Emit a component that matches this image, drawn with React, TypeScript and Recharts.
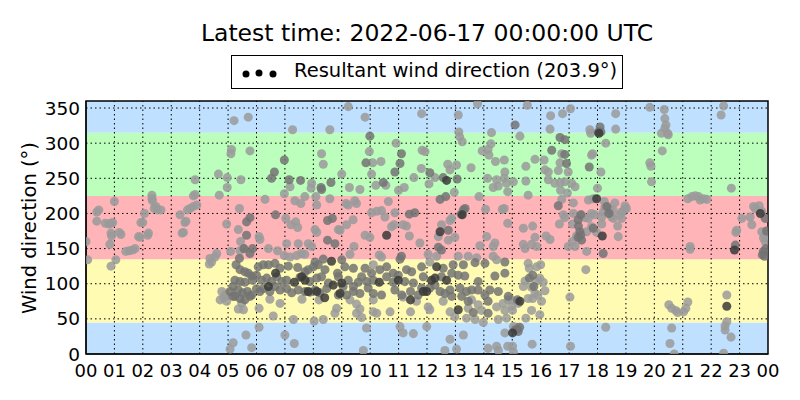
import {
  ScatterChart,
  Scatter,
  XAxis,
  YAxis,
  ZAxis,
  ReferenceArea,
  ReferenceLine,
} from "recharts";

// wind direction samples as [hour of day, degrees], split by shade
const lightPts: [number, number][] = [
  [1.0, 217], [0.45, 205], [0.38, 202], [0.38, 189], [0.68, 186], [0.8, 185], [0.88, 186], [0.94, 187],
  [0.0, 160], [0.06, 134], [0.88, 172], [0.9, 168], [0.84, 156], [1.17, 173], [1.23, 170], [1.05, 134],
  [0.88, 125], [1.4, 146], [1.52, 147], [1.64, 148], [1.73, 150], [1.85, 167], [1.9, 166], [1.93, 187],
  [2.0, 187], [2.06, 200], [2.2, 172], [2.17, 169], [2.32, 226], [2.32, 221], [2.34, 218], [2.46, 210],
  [2.4, 207], [2.52, 205], [2.64, 205],
  [3.84, 248], [4.66, 256], [4.97, 251], [5.45, 248], [4.97, 237], [4.69, 226], [3.84, 227], [3.78, 225],
  [3.9, 212], [3.78, 210], [3.66, 207], [3.57, 205], [3.31, 198], [3.52, 189], [3.48, 187], [3.43, 173],
  [3.38, 172], [5.21, 332], [5.71, 337], [5.12, 291], [5.1, 285], [5.77, 289], [5.4, 207], [4.95, 185],
  [5.36, 177], [5.44, 160], [5.42, 147], [5.54, 150], [5.09, 146], [4.6, 143], [4.54, 138], [4.36, 136],
  [4.42, 131], [4.34, 128], [4.78, 89], [4.72, 77], [4.85, 80], [4.9, 84], [4.95, 75], [5.63, 27],
  [5.18, 16], [5.83, 9], [5.07, 7], [5.48, 72], [5.36, 64], [5.54, 63],
  [7.27, 319], [8.58, 319], [8.29, 285], [8.35, 270], [7.18, 238], [7.94, 243], [7.92, 236], [8.09, 224],
  [8.58, 221], [6.98, 228], [6.3, 220], [7.35, 218], [7.56, 214], [7.7, 224], [8.12, 212], [7.03, 193],
  [7.21, 184], [7.38, 188], [7.45, 180], [8.06, 177], [8.12, 173], [6.09, 167], [6.12, 163], [8.88, 177],
  [7.06, 157], [7.47, 157], [7.82, 157], [7.94, 153], [6.42, 150], [6.74, 147], [6.98, 140], [7.18, 138],
  [7.41, 140], [7.58, 143], [7.7, 142], [6.09, 38], [7.0, 27], [7.33, 15], [6.59, 54], [7.3, 49],
  [8.03, 47], [8.35, 49], [6.09, 65], [6.47, 78], [6.83, 72], [7.6, 78], [8.2, 77], [8.82, 65], [8.76, 58],
  [9.23, 352], [9.82, 337], [11.81, 342], [9.97, 288], [10.91, 300], [10.09, 272], [10.38, 274], [11.8, 264],
  [11.83, 290], [9.0, 256], [10.05, 256], [10.2, 240], [10.55, 240], [9.27, 237], [9.64, 234], [11.0, 233],
  [11.2, 237], [11.54, 251], [9.15, 214], [9.23, 212], [9.52, 214], [9.46, 218], [10.64, 217], [10.23, 203],
  [10.4, 204], [10.52, 195], [10.05, 201], [10.87, 201], [9.4, 191], [9.17, 184], [8.94, 176], [10.75, 181],
  [10.84, 184], [11.16, 184], [11.28, 182], [11.38, 168], [9.82, 169], [9.99, 166], [11.75, 158], [9.43, 153],
  [9.29, 142], [10.32, 141], [10.4, 138], [10.11, 127], [9.87, 37], [11.05, 39], [11.16, 30], [11.52, 29],
  [9.76, 5], [9.29, 77], [9.52, 71], [10.11, 77], [10.7, 60], [11.16, 81], [11.63, 75], [9.64, 64],
  [9.7, 52], [10.11, 60], [10.23, 58], [11.42, 60], [9.52, 58],
  [13.78, 356], [13.1, 340], [13.12, 316], [13.15, 309], [13.24, 302], [14.27, 315], [14.25, 299], [14.15, 291],
  [14.18, 283], [13.94, 289], [14.41, 274], [14.72, 276], [11.93, 288], [12.73, 270], [12.81, 262], [13.04, 269],
  [12.28, 251], [13.55, 265], [14.13, 250], [14.45, 248], [14.74, 259], [14.72, 250], [14.8, 243], [14.33, 237],
  [14.51, 239], [14.84, 231], [12.07, 242], [12.96, 230], [13.83, 224], [14.72, 207], [14.65, 206], [14.06, 206],
  [12.87, 193], [12.81, 190], [12.51, 184], [12.4, 167], [12.75, 162], [12.98, 166], [14.1, 167], [14.39, 158],
  [14.33, 153], [13.86, 154], [14.84, 186], [12.04, 142], [12.34, 139], [12.1, 131], [13.1, 139], [13.45, 139],
  [13.75, 137], [14.33, 139], [14.45, 134], [11.99, 39], [12.81, 21], [13.28, 27], [14.74, 30], [12.63, 5],
  [13.04, 7], [14.15, 8], [14.45, 11], [14.51, 5], [14.84, 11],
  [12.04, 67], [12.57, 75], [13.57, 77], [13.8, 70], [14.68, 72], [14.86, 77], [12.1, 63], [12.81, 60],
  [13.45, 65], [13.92, 62], [14.45, 67], [14.74, 62], [12.98, 53], [13.39, 51], [13.69, 49], [13.98, 45],
  [14.51, 49], [14.8, 51],
  [15.53, 354], [16.35, 339], [16.77, 342], [17.05, 349], [16.33, 320], [15.27, 310], [17.73, 319], [17.76, 314],
  [16.74, 285], [17.79, 283], [17.83, 285], [15.8, 277], [16.12, 276], [15.48, 267], [16.68, 272], [16.15, 262],
  [16.27, 259], [16.62, 261], [16.97, 259], [16.27, 248], [16.5, 243], [16.7, 244], [16.85, 245], [17.09, 243],
  [15.48, 246], [15.04, 245], [16.7, 233], [16.94, 229], [15.56, 226], [17.21, 238], [16.74, 220], [17.15, 215],
  [17.68, 219], [17.85, 221], [16.8, 198], [16.85, 194], [17.15, 200], [17.44, 198], [17.56, 194], [17.68, 193],
  [17.79, 200], [16.66, 185], [17.12, 185], [17.62, 174], [17.79, 181], [15.39, 179], [15.72, 182], [15.8, 166],
  [16.19, 168], [16.33, 163], [17.21, 153], [17.12, 160], [17.26, 168], [15.39, 156], [15.45, 150], [15.68, 156],
  [15.86, 153], [17.62, 146], [16.97, 153],
  [15.56, 129], [15.6, 122], [15.86, 124], [16.0, 127], [15.86, 104], [15.45, 104], [15.97, 108], [16.09, 102],
  [15.39, 96], [15.68, 95], [16.15, 90], [15.8, 86], [15.56, 79], [15.72, 79], [15.9, 84], [16.03, 75],
  [15.21, 72], [14.98, 68], [15.01, 62], [15.68, 62], [15.97, 56], [15.48, 51], [14.98, 77], [17.03, 81],
  [17.59, 120], [15.04, 39], [15.15, 38], [15.7, 14], [15.01, 11], [17.05, 11], [15.04, 3],
  [19.84, 351], [20.35, 348], [20.37, 335], [20.41, 326], [20.37, 321], [20.25, 314], [20.47, 314], [20.49, 312],
  [18.64, 342], [18.64, 320], [18.29, 300], [20.28, 289], [19.84, 272], [19.88, 267], [18.12, 259], [19.9, 245],
  [18.0, 236], [18.24, 217], [18.61, 215], [18.97, 211], [19.02, 207], [18.85, 202], [18.94, 205], [18.26, 209],
  [18.38, 206], [18.44, 204], [18.2, 202], [18.55, 205], [18.15, 195], [18.5, 195], [18.56, 193], [18.85, 193],
  [18.79, 198], [17.91, 198], [18.15, 185], [18.71, 182], [17.97, 173], [18.73, 167], [20.51, 70], [20.61, 65],
  [20.75, 62], [20.82, 59], [18.29, 38], [20.61, 37], [20.55, 15], [20.7, 0],
  [22.44, 353], [22.35, 340], [22.71, 236], [21.18, 221], [21.32, 224], [21.44, 225], [21.56, 224], [21.61, 219],
  [21.85, 220], [21.73, 221], [23.49, 210], [23.69, 211], [23.78, 203], [23.55, 207], [23.37, 195], [23.08, 193],
  [23.43, 184], [22.9, 176], [22.87, 173], [23.78, 174], [23.9, 169], [23.84, 165], [23.9, 160], [21.26, 153],
  [21.26, 149], [22.55, 84], [21.18, 74], [21.11, 65], [21.03, 60], [22.55, 46], [22.49, 40], [22.49, 34],
  [22.7, 24], [22.44, 1],
];

const midPts: [number, number][] = [
  [5.77, 194], [5.65, 188], [5.65, 169], [5.56, 150], [5.77, 143], [5.86, 150], [5.4, 136], [5.28, 127],
  [5.42, 120], [5.59, 117], [5.71, 115], [5.83, 111], [5.24, 105], [5.42, 103], [5.59, 102], [5.86, 105],
  [5.18, 96], [5.36, 91], [5.51, 87], [5.68, 89], [5.83, 84], [5.24, 82], [5.42, 79], [5.59, 77],
  [5.77, 82], [5.07, 89], [5.17, 82],
  [6.98, 276], [6.63, 259], [6.53, 250], [7.15, 248], [7.55, 247], [8.27, 237], [8.29, 234], [8.62, 244],
  [6.67, 198], [8.5, 190], [8.67, 193], [8.5, 162], [8.76, 157], [8.35, 135], [8.06, 131],
  [6.06, 124], [6.24, 127], [6.42, 127], [6.65, 129], [6.83, 122], [7.12, 125], [7.45, 123], [7.71, 117],
  [7.82, 120], [8.0, 124], [8.17, 127], [8.41, 120], [8.85, 115],
  [6.0, 112], [6.18, 105], [6.36, 108], [6.53, 103], [6.71, 110], [6.89, 103], [7.06, 105], [7.53, 109],
  [7.88, 103], [8.12, 108], [8.29, 110], [8.53, 101], [8.88, 110],
  [6.0, 93], [6.12, 89], [6.24, 93], [6.47, 89], [6.65, 96], [6.83, 91], [7.06, 93], [7.24, 87],
  [7.47, 91], [7.71, 89], [8.06, 91], [8.23, 87], [8.47, 93], [8.88, 84], [7.88, 88],
  [9.99, 310], [11.1, 285], [11.05, 271], [9.85, 272], [10.87, 259], [10.46, 244], [11.38, 199], [11.57, 201],
  [11.1, 139], [11.05, 135],
  [9.0, 134], [9.11, 124], [9.41, 122], [9.7, 110], [9.82, 122], [10.05, 115], [10.34, 120], [10.58, 124],
  [10.81, 115], [10.99, 112], [11.28, 120], [11.46, 117], [11.81, 124], [11.87, 110],
  [9.05, 96], [9.23, 105], [9.41, 96], [9.58, 102], [9.88, 103], [10.11, 105], [10.58, 110], [10.81, 102],
  [11.22, 103], [11.52, 101], [11.81, 94],
  [9.17, 84], [9.41, 89], [9.64, 86], [9.93, 94], [10.11, 86], [10.4, 84], [10.87, 91], [11.11, 84],
  [11.42, 89], [11.69, 84],
  [12.1, 258], [12.57, 251], [13.06, 249], [13.28, 205], [13.34, 207], [13.2, 199], [12.46, 220], [12.66, 224],
  [12.75, 176], [12.4, 152], [12.51, 148],
  [12.57, 122], [12.92, 127], [13.28, 127], [13.69, 130], [14.04, 129], [14.74, 131],
  [12.51, 110], [12.87, 115], [13.1, 112], [13.33, 111], [13.8, 103], [14.39, 111], [14.74, 115],
  [12.1, 94], [12.28, 98], [12.46, 89], [12.63, 86], [12.81, 91], [13.16, 94], [13.39, 89], [13.57, 91],
  [13.8, 91], [14.04, 84], [14.21, 91], [14.51, 89], [14.86, 82], [12.87, 82], [13.22, 82], [13.45, 75],
  [14.15, 75], [13.63, 59], [14.15, 58],
  [15.1, 326], [16.68, 308], [16.85, 305], [16.39, 290], [16.85, 284], [16.91, 271], [17.71, 266], [16.62, 211],
  [17.32, 191], [17.41, 198], [17.38, 174], [17.32, 166], [17.41, 169], [17.44, 162], [17.85, 179], [17.33, 182],
  [15.72, 112], [15.6, 108], [15.76, 96], [15.18, 77], [15.1, 34], [15.21, 32], [15.18, 35], [15.26, 38],
  [18.09, 323], [18.03, 316], [18.12, 316], [18.2, 143], [18.33, 210], [18.4, 200],
  [23.9, 193], [22.85, 155], [23.84, 146], [23.8, 141], [23.88, 139], [23.92, 150], [23.95, 175],
];

const darkPts: [number, number][] = [
  [7.33, 102], [7.71, 105], [7.82, 89], [8.12, 89], [8.7, 98], [8.64, 132], [6.67, 115], [6.42, 96],
  [7.59, 110], [8.4, 80],
  [10.58, 169], [9.0, 101], [10.32, 102], [10.99, 105], [8.94, 86], [11.87, 89], [11.42, 77],
  [12.69, 247], [13.24, 198], [12.46, 174], [12.34, 124], [12.16, 105], [12.28, 108], [12.69, 105],
  [11.99, 89], [13.1, 63],
  [15.01, 30], [15.27, 75],
  [18.05, 314], [17.97, 221], [18.17, 168],
  [22.82, 148], [22.55, 68], [23.73, 200],
];

const hourTicks = [0, 1, 2, 3, 4, 5, 6, 7, 8, 9, 10, 11, 12, 13, 14, 15, 16, 17, 18, 19, 20, 21, 22, 23, 24];
const degTicks = [0, 50, 100, 150, 200, 250, 300, 350];

// direction sectors: [from, to, colour]
const bands: [number, number, string][] = [
  [0, 45, "#bfe0ff"],
  [45, 135, "#fffbb3"],
  [135, 225, "#ffb4b8"],
  [225, 315, "#bcffbc"],
  [315, 360, "#bfe0ff"],
];

const toXY = (pts: [number, number][]) => pts.map(([h, d]) => ({ h, d }));

const font = "'DejaVu Sans', sans-serif";
const dots = "1.5 3";

export default function App() {
  return (
    <div style={{ position: "absolute", left: 0, top: 0, width: 800, height: 400, fontFamily: font }}>
      <div
        style={{
          position: "absolute",
          top: 21,
          left: 0,
          width: 854,
          textAlign: "center",
          fontSize: 23.5,
          lineHeight: "24px",
        }}
      >
        Latest time: 2022-06-17 00:00:00 UTC
      </div>
      <div
        style={{
          position: "absolute",
          left: 231,
          top: 55,
          width: 390,
          height: 32,
          border: "1px solid #000",
          background: "#fff",
        }}
      >
        <svg width={60} height={32} style={{ position: "absolute", left: 0, top: 0 }}>
          <circle cx={14} cy={18} r={3.5} fill="#000" />
          <circle cx={27} cy={17} r={3.5} fill="#000" />
          <circle cx={41} cy={18} r={3.5} fill="#000" />
        </svg>
        <span style={{ position: "absolute", left: 62, top: 5, fontSize: 19.5, lineHeight: "20px", whiteSpace: "nowrap" }}>
          Resultant wind direction (203.9°)
        </span>
      </div>
      <div
        style={{
          position: "absolute",
          left: -70,
          top: 217,
          width: 200,
          height: 22,
          lineHeight: "22px",
          textAlign: "center",
          fontSize: 19.5,
          transform: "rotate(-90deg)",
          whiteSpace: "nowrap",
        }}
      >
        Wind direction (°)
      </div>
      <ScatterChart width={800} height={400} margin={{ top: 101, right: 32, bottom: 16, left: 26 }}>
        {bands.map(([y1, y2, c]) => (
          <ReferenceArea key={y1} y1={y1} y2={y2} x1={0} x2={24} fill={c} fillOpacity={1} stroke="none" />
        ))}
        {hourTicks.slice(1, -1).map((h) => (
          <ReferenceLine key={"h" + h} x={h} stroke="#000" strokeDasharray={dots} />
        ))}
        {degTicks.slice(1).map((d) => (
          <ReferenceLine key={"d" + d} y={d} stroke="#000" strokeDasharray={dots} />
        ))}
        <XAxis
          type="number"
          dataKey="h"
          domain={[0, 24]}
          ticks={hourTicks}
          interval={0}
          tickFormatter={(v: number) => String(v % 24).padStart(2, "0")}
          height={30}
          tickSize={0}
          tickMargin={10}
          tick={{ fill: "#000", fontSize: 18, fontFamily: font }}
          axisLine={{ stroke: "#000" }}
          allowDataOverflow
        />
        <YAxis
          type="number"
          dataKey="d"
          domain={[0, 360]}
          ticks={degTicks}
          interval={0}
          width={60}
          tickSize={0}
          tickMargin={6}
          tick={{ fill: "#000", fontSize: 18.5, fontFamily: font }}
          axisLine={{ stroke: "#000" }}
          allowDataOverflow
        />
        <ZAxis range={[44, 44]} />
        <Scatter data={toXY(lightPts)} fill="#9a9a9a" fillOpacity={0.85} isAnimationActive={false} />
        <Scatter data={toXY(midPts)} fill="#737373" fillOpacity={0.85} isAnimationActive={false} />
        <Scatter data={toXY(darkPts)} fill="#3a3a3a" fillOpacity={0.85} isAnimationActive={false} />
        <ReferenceArea x1={0} x2={24} y1={0} y2={360} fill="none" stroke="#000" strokeWidth={1.5} />
      </ScatterChart>
    </div>
  );
}
